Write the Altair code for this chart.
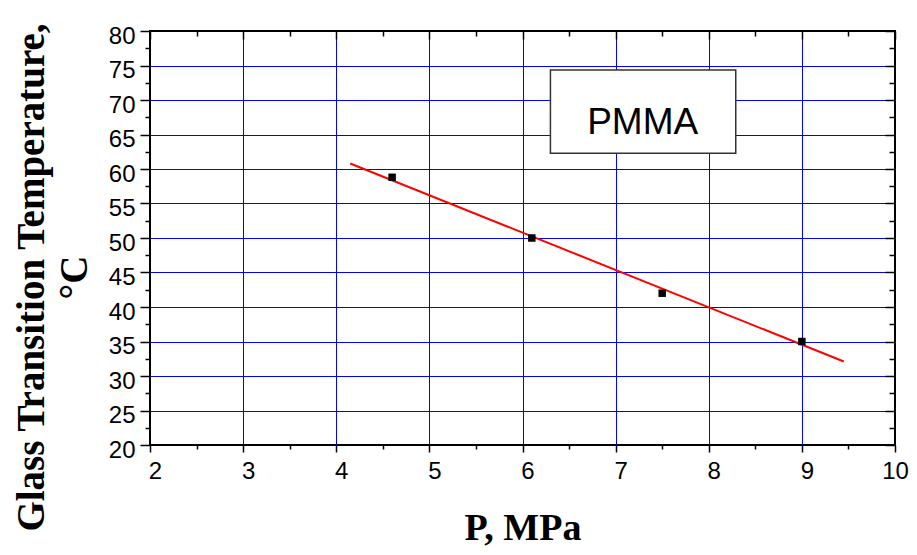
import altair as alt
import pandas as pd

# ---- data ----
pressure = [4.6, 6.1, 7.5, 9.0]          # P, MPa
tg = [58.8, 50.0, 42.0, 35.0]            # Glass transition temperature, °C
fit_p = [4.15, 9.45]                     # fitted line end points (x)
fit_tg = [60.8, 32.1]                    # fitted line end points (y)

x_major = [2, 3, 4, 5, 6, 7, 8, 9, 10]
x_minor = [2.5, 3.5, 4.5, 5.5, 6.5, 7.5, 8.5, 9.5]
x_grid = [3, 4, 5, 6, 7, 8, 9]
y_major = [20, 25, 30, 35, 40, 45, 50, 55, 60, 65, 70, 75, 80]
y_minor = [22.5, 27.5, 32.5, 37.5, 42.5, 47.5, 52.5, 57.5, 62.5, 67.5, 72.5, 77.5]
y_grid = [25, 30, 35, 40, 45, 50, 55, 60, 65, 70, 75]

box_x = [6.30, 8.29]
box_y = [74.35, 62.3]
label_text = ["PMMA"]
label_x = [7.29]
label_y = [65.1]

fit_df = pd.DataFrame({"p": fit_p, "tg": fit_tg})
pts_df = pd.DataFrame({"p": pressure, "tg": tg})
box_df = pd.DataFrame({"x1": [box_x[0]], "x2": [box_x[1]], "y1": [box_y[0]], "y2": [box_y[1]]})
txt_df = pd.DataFrame({"x": label_x, "y": label_y, "t": label_text})

xs = alt.Scale(domain=[2, 10], nice=False, zero=False)
ys = alt.Scale(domain=[20, 80], nice=False, zero=False)


def tick_axis(values, orient, size, offset=0):
    return alt.Axis(values=values, orient=orient, tickSize=size, offset=offset,
                    tickColor="black", tickWidth=1.5, labels=False, domain=False,
                    grid=False, title=None)


# grid only
grid = alt.Chart(fit_df).mark_line(opacity=0).encode(
    x=alt.X("p:Q", scale=xs, axis=alt.Axis(values=x_grid, grid=True, gridColor="#0000ff",
                                            gridWidth=1, gridOpacity=1, ticks=False, labels=False,
                                            domain=False, title=None)),
    y=alt.Y("tg:Q", scale=ys, axis=alt.Axis(values=y_grid, grid=True, gridColor="#0000ff",
                                             gridWidth=1, gridOpacity=1, ticks=False, labels=False,
                                             domain=False, title=None)),
)

line = alt.Chart(fit_df).mark_line(color="#ff0000", strokeWidth=2).encode(
    x=alt.X("p:Q", scale=xs, axis=alt.Axis(
        values=x_major, orient="bottom", tickSize=7, tickWidth=1.5, tickColor="black",
        labelFont="Liberation Sans", labelFontSize=24, labelColor="black", labelPadding=7,
        labelOffset={"condition": {"test": "datum.value == 10", "value": 0}, "value": 5},
        labelFlush=False, labelOverlap=False, format="d",
        domain=False, grid=False,
        title="P, MPa", titleFont="Liberation Serif", titleFontSize=38, titleFontWeight="bold",
        titleColor="black", titleY=94, titleBaseline="alphabetic")),
    y=alt.Y("tg:Q", scale=ys, axis=alt.Axis(
        values=y_major, orient="left", tickSize=10, tickWidth=1.5, tickColor="black",
        labelFont="Liberation Sans", labelFontSize=24, labelColor="black", labelPadding=5,
        labelOffset=5, labelFlush=False, labelOverlap=False, format="d",
        domain=False, grid=False,
        title=["Glass Transition Temperature,", "°C"], titleFont="Liberation Serif",
        titleFontSize=39, titleFontWeight="bold", titleColor="black",
        titleX=-107, titleY=246, titleAngle=270, titleAlign="center",
        titleBaseline="alphabetic", titleLineHeight=43)),
)

points = alt.Chart(pts_df).mark_square(size=56, color="black", opacity=1).encode(
    x=alt.X("p:Q", scale=xs, axis=tick_axis(x_minor, "bottom", 4)),
    y=alt.Y("tg:Q", scale=ys, axis=tick_axis(y_minor, "left", 5)),
)

box = alt.Chart(box_df).mark_rect(fill="white", stroke="#333333", strokeWidth=1.5).encode(
    x=alt.X("x1:Q", scale=xs, axis=tick_axis(x_major, "top", 8, -8)),
    x2="x2:Q",
    y=alt.Y("y1:Q", scale=ys, axis=tick_axis(y_major, "right", 10, -10)),
    y2="y2:Q",
)

text = alt.Chart(txt_df).mark_text(font="Liberation Sans", fontSize=37, color="black",
                                   align="center", baseline="alphabetic").encode(
    x=alt.X("x:Q", scale=xs, axis=tick_axis(x_minor, "top", 5, -5)),
    y=alt.Y("y:Q", scale=ys, axis=tick_axis(y_minor, "right", 6, -6)),
    text="t:N",
)

chart = alt.layer(grid, line, points, box, text).resolve_axis(
    x="independent", y="independent"
).properties(
    width=745, height=414,
    autosize=alt.AutoSizeParams(type="none"),
    padding={"left": 142, "top": 23, "right": 14, "bottom": 102},
    background="white",
).configure_view(stroke="black", strokeWidth=2, fill="white")

chart.save("out.html", embed_options={"renderer": "svg", "actions": False})
